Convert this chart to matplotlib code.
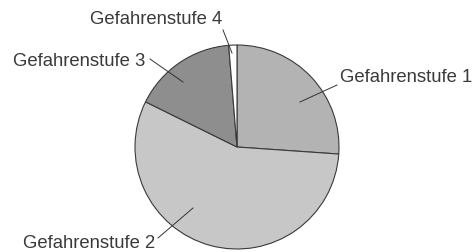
import matplotlib
matplotlib.use("Agg")
from matplotlib import pyplot as plt

# Werte (geschaetzt aus dem Bild, in Prozent)
labels = ["Gefahrenstufe 1", "Gefahrenstufe 2", "Gefahrenstufe 3", "Gefahrenstufe 4"]
values = [26.1, 56.2, 16.4, 1.3]
colors = ["#b3b3b3", "#c7c7c7", "#8e8e8e", "#ffffff"]

# Beschriftungen: Textposition und Anfang/Ende der Hinweislinie (Pixel, y nach oben)
text_pos = [(340, 174, "left"), (155, 9, "right"), (145, 190, "right"), (222, 232, "right")]
leaders = [((300, 150), (337, 167)),
           ((193, 44), (158, 14)),
           ((183, 170), (150, 193)),
           ((232, 199), (223, 222))]

fig = plt.figure(figsize=(4.73, 2.52), dpi=100)
ax = fig.add_axes([0, 0, 1, 1])

ax.pie(values, colors=colors, startangle=90, counterclock=False,
       center=(237, 105), radius=102, frame=True,
       wedgeprops=dict(edgecolor="#3a3a3a", linewidth=0.8))
ax.set_xlim(0, 473)
ax.set_ylim(0, 252)
ax.set_aspect("equal")
ax.axis("off")

for (x, y, ha), lab in zip(text_pos, labels):
    ax.text(x, y, lab, ha=ha, va="center", fontsize=13.3,
            family="Liberation Sans", color="#3a3a3a")
for (a, b) in leaders:
    ax.plot([a[0], b[0]], [a[1], b[1]], color="#333333", linewidth=0.7)

fig.savefig("out.png", dpi=100)
